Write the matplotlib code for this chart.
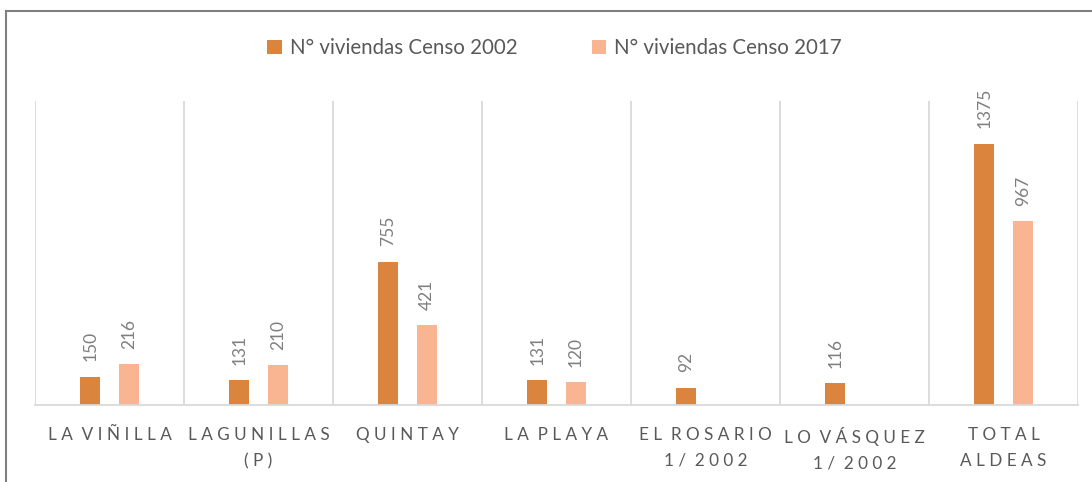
import numpy as np
import matplotlib.pyplot as plt
from matplotlib.patches import Rectangle

plt.rcParams['font.family'] = ['Lato', 'DejaVu Sans']

categorias = ["LA VIÑILLA", "LAGUNILLAS\n(P)", "QUINTAY", "LA PLAYA",
              "EL ROSARIO\n1/ 2002", "LO VÁSQUEZ\n1/ 2002", "TOTAL\nALDEAS"]
censo_2002 = [150, 131, 755, 131, 92, 116, 1375]
censo_2017 = [216, 210, 421, 120, None, None, 967]

c2002 = "#DA843E"
c2017 = "#F9B592"
gris = "#595959"


def espaciar(txt):
    # letter spacing like the original axis labels
    lineas = []
    for linea in txt.split("\n"):
        palabras = [" ".join(p) for p in linea.split(" ")]
        lineas.append("  ".join(palabras))
    return "\n".join(lineas)


fig = plt.figure(figsize=(10.92, 4.82), dpi=100)
ax = fig.add_axes([35/1092, 1 - 405/482, (1078 - 35)/1092, (405 - 101)/482])

x = np.arange(len(categorias))
ancho = 0.135
off = 0.13

v02 = [v if v is not None else 0 for v in censo_2002]
v17 = [v if v is not None else 0 for v in censo_2017]
b1 = ax.bar(x - off, v02, ancho, color=c2002, label="N° viviendas Censo 2002")
b2 = ax.bar(x + off, v17, ancho, color=c2017, label="N° viviendas Censo 2017")

for barras, vals in ((b1, censo_2002), (b2, censo_2017)):
    for r, v in zip(barras, vals):
        if v is None:
            continue
        ax.annotate(str(v), (r.get_x() + r.get_width()/2, r.get_height()),
                    xytext=(0, 11), textcoords="offset points",
                    rotation=90, ha="center", va="bottom",
                    fontsize=12.5, color="#7F7F7F")

ax.set_xlim(-0.5, len(categorias) - 0.5)
ax.set_ylim(0, 1600)
for xv in np.arange(-0.5, len(categorias), 1):
    ax.axvline(xv, color="#D9D9D9", lw=1.3, zorder=0)

ax.set_yticks([])
ax.set_xticks(x)
ax.set_xticklabels([espaciar(c) for c in categorias], fontsize=12.3,
                   color=gris, linespacing=1.75)
ax.tick_params(axis="x", length=0, pad=16)
for s in ("top", "right", "left"):
    ax.spines[s].set_visible(False)
ax.spines["bottom"].set_color("#D9D9D9")
ax.spines["bottom"].set_linewidth(1.3)

fig.legend(handles=[b1, b2], loc="center", bbox_to_anchor=(0.508, 1 - 48/482),
           ncol=2, frameon=False, fontsize=14.8, labelcolor=gris,
           handlelength=0.7, handleheight=0.7, handletextpad=0.4,
           columnspacing=3.6)

fig.patches.append(Rectangle((6/1092, -0.05), 1.1, 1 - 11/482 + 0.05,
                             transform=fig.transFigure, fill=False,
                             edgecolor="#7F7F7F", lw=1.5))

fig.savefig("out.png", dpi=100)
